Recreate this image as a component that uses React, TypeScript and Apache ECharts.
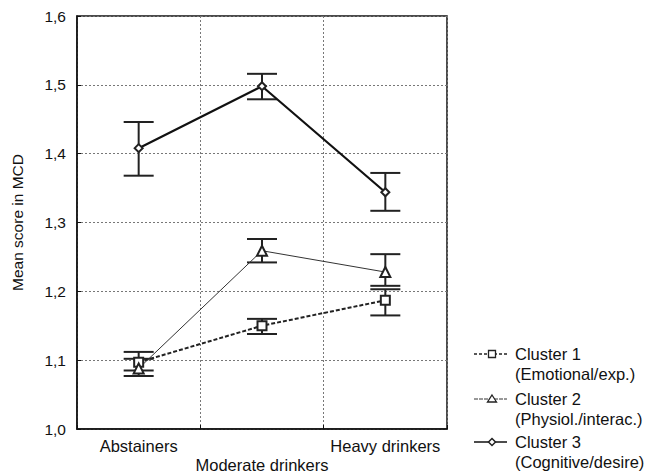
import React, { useEffect, useRef } from "react";
import * as echarts from "echarts";

const categories = ["Abstainers", "Moderate drinkers", "Heavy drinkers"];
const yTicks = ["1,0", "1,1", "1,2", "1,3", "1,4", "1,5", "1,6"];

const cluster1Mean = [1.097, 1.15, 1.187];
const cluster1Low = [1.085, 1.138, 1.165];
const cluster1High = [1.112, 1.16, 1.203];

const cluster2Mean = [1.088, 1.259, 1.228];
const cluster2Low = [1.077, 1.242, 1.208];
const cluster2High = [1.102, 1.276, 1.254];

const cluster3Mean = [1.408, 1.498, 1.344];
const cluster3Low = [1.368, 1.479, 1.317];
const cluster3High = [1.446, 1.516, 1.372];

const legendNames = ["Cluster 1", "Cluster 2", "Cluster 3"];
const legendSubs = ["(Emotional/exp.)", "(Physiol./interac.)", "(Cognitive/desire)"];

const FONT = "'Liberation Sans', Arial, sans-serif";

function errorSeries(low: number[], high: number[]) {
  return {
    type: "custom",
    z: 2,
    silent: true,
    data: low.map((l, i) => [i, l, high[i]]),
    renderItem: (params: any, api: any) => {
      const x = api.value(0);
      const lo = api.coord([x, api.value(1)]);
      const hi = api.coord([x, api.value(2)]);
      const w = 15;
      const style = { stroke: "#222", lineWidth: 2 };
      return {
        type: "group",
        children: [
          { type: "line", shape: { x1: lo[0], y1: lo[1], x2: hi[0], y2: hi[1] }, style },
          { type: "line", shape: { x1: lo[0] - w, y1: lo[1], x2: lo[0] + w, y2: lo[1] }, style },
          { type: "line", shape: { x1: hi[0] - w, y1: hi[1], x2: hi[0] + w, y2: hi[1] }, style },
        ],
      };
    },
  };
}

export default function App() {
  const ref = useRef<HTMLDivElement>(null);
  useEffect(() => {
    if (!ref.current) return;
    const chart = echarts.init(ref.current, null, { renderer: "svg" });
    const lineStyles = [
      { color: "#222", width: 2, type: [4, 2] as any },
      { color: "#333", width: 1, type: "solid" as any },
      { color: "#111", width: 2.2, type: "solid" as any },
    ];
    const symbols = ["emptyRect", "emptyTriangle", "emptyDiamond"];
    const symbolSizes = [9, 10, 8];
    const legendY = [354, 399, 442];
    const graphics: any[] = [];
    legendNames.forEach((n, i) => {
      graphics.push({
        type: "line",
        shape: { x1: 474, y1: legendY[i], x2: 507, y2: legendY[i] },
        style: { stroke: lineStyles[i].color, lineWidth: i === 1 ? 1 : 1.5, lineDash: i === 0 ? [3, 2] : i === 1 ? [4, 1] : null },
      });
      const s = symbolSizes[i] - 2;
      if (i === 0) {
        graphics.push({ type: "rect", shape: { x: 492 - s / 2, y: legendY[i] - s / 2, width: s, height: s }, style: { fill: "#fff", stroke: "#222", lineWidth: 1.3 } });
      } else if (i === 1) {
        graphics.push({ type: "polygon", shape: { points: [[492, legendY[i] - 4], [496.5, legendY[i] + 3], [487.5, legendY[i] + 3]] }, style: { fill: "#fff", stroke: "#222", lineWidth: 1.3 } });
      } else {
        graphics.push({ type: "polygon", shape: { points: [[492, legendY[i] - 3.5], [495.5, legendY[i]], [492, legendY[i] + 3.5], [488.5, legendY[i]]] }, style: { fill: "#fff", stroke: "#222", lineWidth: 1.5 } });
      }
      graphics.push({ type: "text", x: 515, y: legendY[i], style: { text: n, font: `16.5px ${FONT}`, fill: "#111", verticalAlign: "middle" } });
      graphics.push({ type: "text", x: 515, y: legendY[i] + 20, style: { text: legendSubs[i], font: `16.5px ${FONT}`, fill: "#111", verticalAlign: "middle" } });
    });

    const means = [cluster1Mean, cluster2Mean, cluster3Mean];
    chart.setOption({
      animation: false,
      backgroundColor: "#fff",
      grid: { left: 77, right: 199, top: 16, bottom: 42, show: true, borderColor: "#111", borderWidth: 1.5, backgroundColor: "transparent" },
      xAxis: {
        type: "category",
        data: categories,
        boundaryGap: true,
        axisLine: { lineStyle: { color: "#111", width: 1.5 } },
        axisTick: { show: true, inside: true, length: 4, lineStyle: { color: "#111" } },
        splitLine: { show: true, lineStyle: { color: "#777", type: [2, 2], width: 1 } },
        axisLabel: {
          color: "#111",
          fontSize: 16.5,
          fontFamily: FONT,
          margin: 7,
          lineHeight: 19,
          interval: 0,
          formatter: (v: string, i: number) => (i === 1 ? "\n" + v : v),
        },
      },
      yAxis: {
        type: "value",
        min: 1.0,
        max: 1.6,
        interval: 0.1,
        name: "Mean score in MCD",
        nameLocation: "middle",
        nameGap: 52,
        nameRotate: 90,
        nameTextStyle: { color: "#111", fontSize: 15.5, fontFamily: FONT },
        axisLine: { show: true, lineStyle: { color: "#111", width: 1.5 } },
        axisTick: { show: true, inside: true, length: 4, lineStyle: { color: "#111" } },
        splitLine: { show: true, lineStyle: { color: "#777", type: [2, 2], width: 1 } },
        axisLabel: {
          color: "#111",
          fontSize: 15.5,
          fontFamily: FONT,
          margin: 11,
          formatter: (v: number) => yTicks[Math.round((v - 1) * 10)] ?? String(v),
        },
      },
      graphic: graphics,
      series: [
        errorSeries(cluster1Low, cluster1High),
        errorSeries(cluster2Low, cluster2High),
        errorSeries(cluster3Low, cluster3High),
        ...means.map((m, i) => ({
          type: "line",
          name: legendNames[i],
          z: 5,
          data: m,
          symbol: symbols[i],
          symbolSize: symbolSizes[i],
          lineStyle: lineStyles[i],
          itemStyle: { color: "#222", borderWidth: 1.5 },
        })),
      ],
    });
    return () => chart.dispose();
  }, []);
  return <div ref={ref} style={{ width: 646, height: 474, position: "absolute", left: 0, top: 0 }} />;
}
